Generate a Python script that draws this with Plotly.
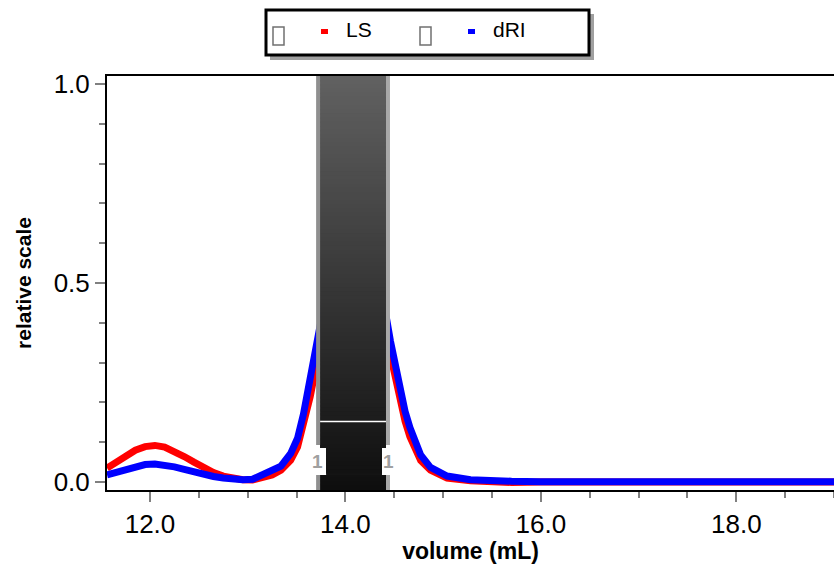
import plotly.graph_objects as go

# ---- data ----
volume = [11.56, 11.65, 11.75, 11.85, 11.95, 12.05, 12.15, 12.25, 12.35, 12.45,
          12.55, 12.65, 12.75, 12.85, 12.95, 13.05, 13.16, 13.25, 13.34, 13.44,
          13.51, 13.57, 13.64, 13.70, 13.80, 13.90, 14.00, 14.10, 14.20, 14.30,
          14.40, 14.46, 14.52, 14.56, 14.61, 14.66, 14.72, 14.77, 14.87, 15.04,
          15.28, 15.50, 15.70, 16.00, 16.50, 17.00, 17.50, 18.00, 18.50, 19.00]
ls_signal = [0.035, 0.050, 0.065, 0.080, 0.089, 0.092, 0.088, 0.078, 0.064, 0.050,
             0.036, 0.024, 0.015, 0.009, 0.006, 0.005, 0.010, 0.018, 0.030, 0.055,
             0.088, 0.140, 0.215, 0.290, 0.420, 0.680, 0.950, 1.000, 0.880, 0.640,
             0.400, 0.320, 0.245, 0.198, 0.153, 0.114, 0.078, 0.054, 0.030, 0.010,
             0.003, 0.000, -0.001, 0.000, 0.000, 0.000, 0.000, 0.000, 0.000, 0.000]
dri_signal = [0.018, 0.024, 0.031, 0.038, 0.044, 0.045, 0.043, 0.038, 0.032, 0.025,
              0.019, 0.014, 0.010, 0.007, 0.006, 0.007, 0.018, 0.028, 0.040, 0.072,
              0.110, 0.170, 0.262, 0.345, 0.470, 0.760, 0.980, 1.000, 0.900, 0.670,
              0.440, 0.355, 0.285, 0.232, 0.178, 0.137, 0.094, 0.068, 0.037, 0.015,
              0.006, 0.003, 0.002, 0.001, 0.001, 0.001, 0.001, 0.001, 0.001, 0.001]
series_names = ["LS", "dRI"]
series_colors = ["#ff0000", "#0000ff"]
peak_region = [13.70, 14.456]   # selected peak (volume, mL)
peak_marker_line = 0.152        # white marker line inside selection
peak_label = "1"

x_range = [11.56, 19.0]
y_range = [-0.02, 1.02]
x_ticks = [12, 14, 16, 18]
y_ticks = [0.0, 0.5, 1.0]

W, H = 834, 564
ML, MR, MT, MB = 107, 0, 76, 74
PW, PH = W - ML - MR, H - MT - MB

def px_x(p):  # pixel -> paper x
    return (p - ML) / PW

def px_y(p):  # pixel -> paper y
    return (H - MB - p) / PH

xs_per_px = (x_range[1] - x_range[0]) / PW
ys_per_px = (y_range[1] - y_range[0]) / PH

FONT = "Liberation Sans, Arial, sans-serif"

fig = go.Figure()
for name, col, ys in zip(series_names, series_colors, [ls_signal, dri_signal]):
    fig.add_trace(go.Scatter(x=volume, y=ys, mode="lines", name=name,
                             line=dict(color=col, width=7), showlegend=False))

shapes = []
# gradient bar for selected peak
x0, x1 = peak_region
inner0 = x0 + 4 * xs_per_px
inner1 = x1 - 4 * xs_per_px
notch0, notch1 = x0 + 10 * xs_per_px, x1 - 8 * xs_per_px
cut_lo = y_range[0] + (490 - 475) * ys_per_px
cut_hi = y_range[0] + (490 - 448) * ys_per_px
# solid base pieces to avoid seams
shapes.append(dict(type="rect", xref="x", yref="y", x0=inner0, x1=inner1, y0=cut_hi, y1=y_range[1],
                   fillcolor="#303030", line=dict(width=0), layer="above"))
shapes.append(dict(type="rect", xref="x", yref="y", x0=notch0, x1=notch1, y0=cut_lo, y1=cut_hi,
                   fillcolor="#141414", line=dict(width=0), layer="above"))
shapes.append(dict(type="rect", xref="x", yref="y", x0=inner0, x1=inner1, y0=y_range[0], y1=cut_lo,
                   fillcolor="#101010", line=dict(width=0), layer="above"))
nb = 100
top_c, bot_c = 0x61, 0x0e
span = y_range[1] - y_range[0]
for i in range(nb):
    ya = y_range[0] + span * i / nb
    yb = min(y_range[1], y_range[0] + span * (i + 1.6) / nb)
    f = (i + 0.5) / nb
    c = int(round(bot_c + f * (top_c - bot_c)))
    col = f"rgb({c},{c},{c})"
    mid = y_range[0] + span * (i + 0.5) / nb
    if cut_lo <= mid <= cut_hi:
        xa, xb = notch0, notch1
        ya, yb = max(ya, cut_lo), min(yb, cut_hi)
    elif mid < cut_lo:
        xa, xb = inner0, inner1
        yb = min(yb, cut_lo)
    else:
        xa, xb = inner0, inner1
        ya = max(ya, cut_hi)
    shapes.append(dict(type="rect", xref="x", yref="y", x0=xa, x1=xb, y0=ya, y1=yb,
                       fillcolor=col, line=dict(width=0), layer="above"))
# borders
b_lo = y_range[0] + (490 - 475) * ys_per_px
b_hi = y_range[0] + (490 - 445) * ys_per_px
for bx, bc in [(x0 + 2 * xs_per_px, "#8f8f8f"), (x1 - 2 * xs_per_px, "#a8a8a8")]:
    shapes.append(dict(type="line", xref="x", yref="y", x0=bx, x1=bx, y0=b_hi, y1=y_range[1],
                       line=dict(color=bc, width=4), layer="above"))
    shapes.append(dict(type="line", xref="x", yref="y", x0=bx, x1=bx, y0=y_range[0], y1=b_lo,
                       line=dict(color=bc, width=4), layer="above"))
# white marker line
shapes.append(dict(type="line", xref="x", yref="y", x0=inner0, x1=inner1,
                   y0=peak_marker_line, y1=peak_marker_line,
                   line=dict(color="white", width=1.5), layer="above"))

# legend box with shadow
shapes.append(dict(type="rect", xref="paper", yref="paper",
                   x0=px_x(270), x1=px_x(594), y0=px_y(60), y1=px_y(14),
                   fillcolor="#a0a0a0", line=dict(width=0), layer="above"))
shapes.append(dict(type="rect", xref="paper", yref="paper",
                   x0=px_x(266), x1=px_x(589), y0=px_y(55), y1=px_y(10),
                   fillcolor="white", line=dict(color="black", width=3), layer="above"))
# missing-glyph boxes
for gx in [273, 420]:
    shapes.append(dict(type="rect", xref="paper", yref="paper",
                       x0=px_x(gx), x1=px_x(gx + 11), y0=px_y(45), y1=px_y(27),
                       fillcolor="white", line=dict(color="#707070", width=1.5), layer="above"))
# colour squares
for sx, col in [(321, series_colors[0]), (468, series_colors[1])]:
    shapes.append(dict(type="rect", xref="paper", yref="paper",
                       x0=px_x(sx), x1=px_x(sx + 7), y0=px_y(34), y1=px_y(29),
                       fillcolor=col, line=dict(width=0), layer="above"))

annotations = []
for lx, name in [(344, series_names[0]), (491, series_names[1])]:
    annotations.append(dict(xref="paper", yref="paper", x=px_x(lx), y=px_y(30),
                            text=name, showarrow=False, xanchor="left", yanchor="middle",
                            font=dict(family=FONT, size=21, color="black")))
lab_y = y_range[0] + (490 - 461) * ys_per_px
for lx in [x0 + 1.5 * xs_per_px, x1 - 1.5 * xs_per_px]:
    annotations.append(dict(xref="x", yref="y", x=lx, y=lab_y, text=f"<b>{peak_label}</b>",
                            showarrow=False, xanchor="center", yanchor="middle",
                            font=dict(family=FONT, size=19, color="#a0a0a0")))

fig.update_layout(
    width=W, height=H,
    margin=dict(l=ML, r=MR, t=MT, b=MB, pad=0),
    paper_bgcolor="white", plot_bgcolor="white",
    font=dict(family=FONT, color="black"),
    shapes=shapes, annotations=annotations,
    showlegend=False,
    xaxis=dict(range=x_range, tickvals=x_ticks, ticktext=[f"{v:.1f}" for v in x_ticks],
               showgrid=False, zeroline=False,
               showline=True, linecolor="black", linewidth=2, mirror=True,
               ticks="outside", ticklen=10, tickwidth=2, tickcolor="#808080",
               minor=dict(dtick=0.5, tick0=0, ticks="outside", ticklen=6, tickwidth=2,
                          tickcolor="#808080", showgrid=False),
               tickfont=dict(size=26, family=FONT),
               title=dict(text="<b>volume (mL)</b>", font=dict(size=23, family=FONT), standoff=6)),
    yaxis=dict(range=y_range, tickvals=y_ticks, ticktext=[f"{v:.1f}" for v in y_ticks],
               showgrid=False, zeroline=False,
               showline=True, linecolor="black", linewidth=2, mirror=False,
               ticks="outside", ticklen=10, tickwidth=2, tickcolor="#808080",
               minor=dict(dtick=0.1, tick0=0, ticks="outside", ticklen=6, tickwidth=2,
                          tickcolor="#808080", showgrid=False),
               tickfont=dict(size=26, family=FONT),
               title=dict(text="<b>relative scale</b>", font=dict(size=21, family=FONT), standoff=16)),
)

fig.write_html("out.html")
